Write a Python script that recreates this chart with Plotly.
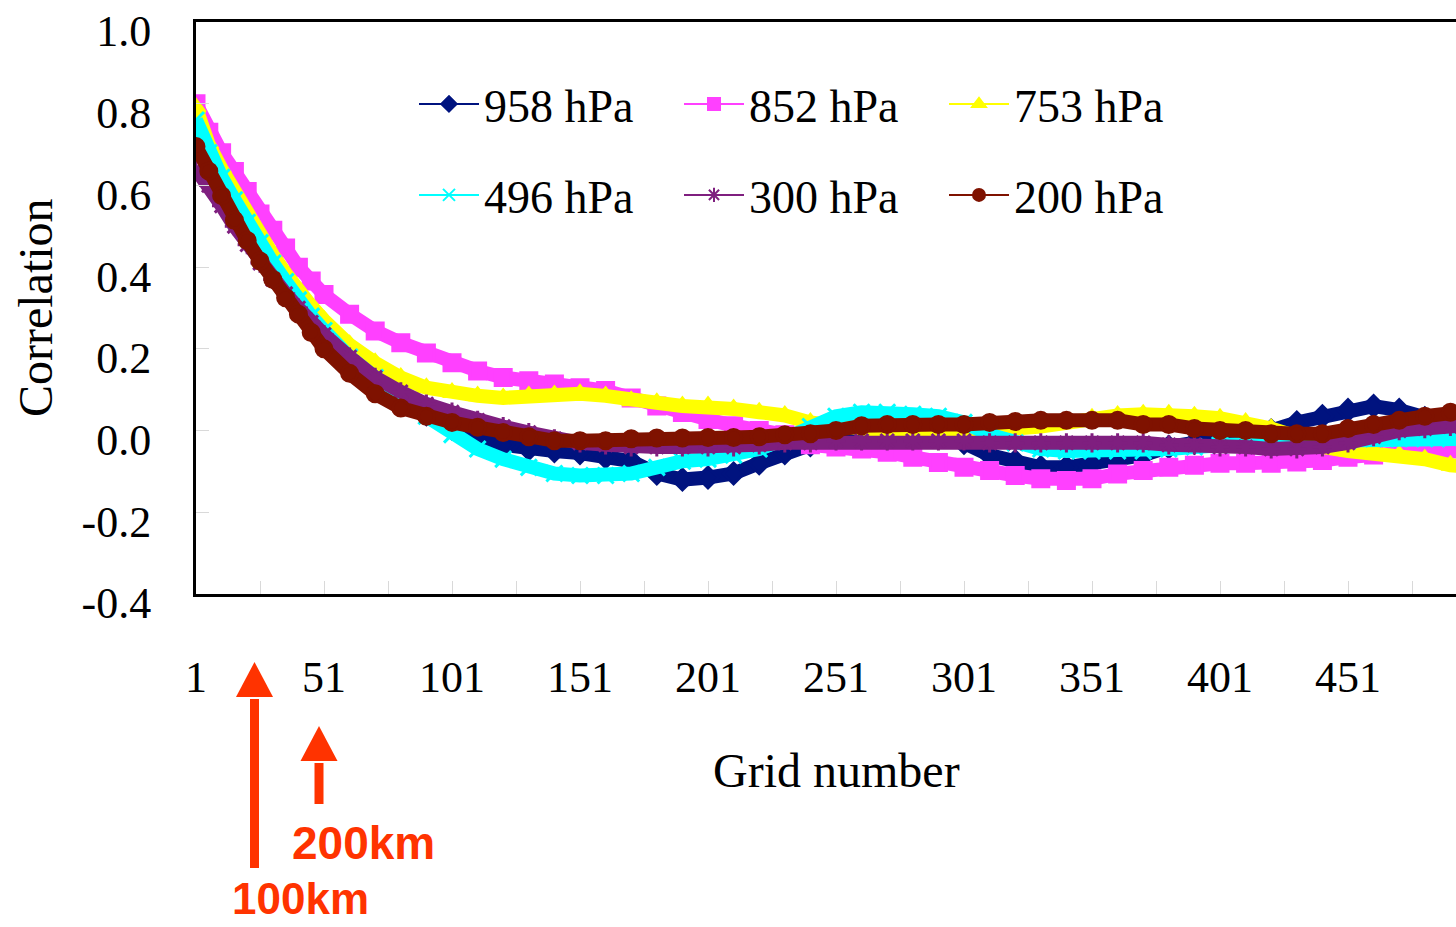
import plotly.graph_objects as go

# ---------------- data ----------------
grid = [1, 6, 11, 16, 21, 26, 31, 36, 41, 46, 51, 61, 71, 81, 91, 101, 111, 121, 131, 141,
        151, 161, 171, 181, 191, 201, 211, 221, 231, 241, 251, 261, 271, 281, 291, 301,
        311, 321, 331, 341, 351, 361, 371, 381, 391, 401, 411, 421, 431, 441, 451, 461,
        471, 481, 491, 501]

hpa958 = [0.73, 0.66, 0.60, 0.545, 0.49, 0.44, 0.395, 0.35, 0.31, 0.275, 0.24, 0.18, 0.13,
          0.085, 0.04, 0.005, -0.02, -0.035, -0.045, -0.05, -0.055, -0.065, -0.075, -0.105,
          -0.12, -0.115, -0.105, -0.08, -0.055, -0.035, -0.02, -0.01, -0.01, -0.01, -0.015,
          -0.03, -0.06, -0.075, -0.09, -0.09, -0.08, -0.075, -0.06, -0.04, -0.03, -0.02,
          -0.015, 0.0, 0.02, 0.035, 0.05, 0.06, 0.05, 0.03, 0.015, 0.01]
hpa852 = [0.80, 0.73, 0.68, 0.634, 0.585, 0.53, 0.49, 0.447, 0.40, 0.366, 0.333, 0.285, 0.244,
          0.215, 0.19, 0.166, 0.146, 0.13, 0.122, 0.114, 0.105, 0.098, 0.08, 0.06, 0.044,
          0.027, 0.012, 0.0, -0.01, -0.035, -0.04, -0.045, -0.053, -0.065, -0.078, -0.09,
          -0.098, -0.11, -0.118, -0.122, -0.118, -0.106, -0.098, -0.09, -0.085, -0.08, -0.08,
          -0.08, -0.077, -0.073, -0.065, -0.06, -0.053, -0.045, -0.045, -0.04]
hpa753 = [0.79, 0.70, 0.64, 0.585, 0.53, 0.48, 0.43, 0.385, 0.34, 0.305, 0.27, 0.21, 0.166,
          0.13, 0.105, 0.093, 0.085, 0.08, 0.085, 0.087, 0.09, 0.085, 0.073, 0.068, 0.06,
          0.06, 0.053, 0.045, 0.037, 0.02, 0.01, 0.005, 0.0, 0.0, 0.0, 0.0, 0.0, 0.005, 0.01,
          0.02, 0.03, 0.037, 0.04, 0.04, 0.035, 0.03, 0.02, 0.005, -0.015, -0.04, -0.05,
          -0.055, -0.06, -0.07, -0.085, -0.09]
hpa496 = [0.76, 0.68, 0.62, 0.565, 0.51, 0.46, 0.41, 0.365, 0.32, 0.28, 0.245, 0.18, 0.13,
          0.075, 0.035, -0.01, -0.045, -0.07, -0.09, -0.105, -0.11, -0.11, -0.105, -0.09,
          -0.075, -0.07, -0.06, -0.045, -0.02, 0.01, 0.035, 0.045, 0.045, 0.04, 0.035, 0.02,
          -0.01, -0.03, -0.045, -0.05, -0.05, -0.05, -0.05, -0.045, -0.04, -0.035, -0.03,
          -0.025, -0.025, -0.025, -0.025, -0.02, -0.02, -0.02, -0.02, -0.02]
hpa300 = [0.64, 0.60, 0.55, 0.50, 0.455, 0.41, 0.37, 0.335, 0.30, 0.265, 0.235, 0.18, 0.13,
          0.095, 0.065, 0.045, 0.025, 0.01, -0.005, -0.02, -0.03, -0.035, -0.04, -0.04,
          -0.04, -0.04, -0.04, -0.035, -0.03, -0.03, -0.025, -0.025, -0.025, -0.025, -0.025,
          -0.025, -0.03, -0.03, -0.03, -0.03, -0.03, -0.03, -0.03, -0.035, -0.035, -0.04,
          -0.04, -0.045, -0.045, -0.04, -0.03, -0.015, 0.0, 0.005, 0.01, 0.015]
hpa200 = [0.695, 0.635, 0.575, 0.515, 0.465, 0.415, 0.37, 0.325, 0.285, 0.24, 0.20, 0.14,
          0.09, 0.055, 0.035, 0.02, 0.008, -0.005, -0.015, -0.025, -0.025, -0.025, -0.02,
          -0.018, -0.018, -0.017, -0.017, -0.015, -0.01, -0.008, 0.0, 0.012, 0.015, 0.015,
          0.015, 0.015, 0.02, 0.022, 0.025, 0.025, 0.025, 0.025, 0.015, 0.015, 0.005, 0.0,
          0.0, -0.008, -0.008, -0.008, 0.005, 0.015, 0.025, 0.035, 0.045, 0.05]

series_names = ["958 hPa", "852 hPa", "753 hPa", "496 hPa", "300 hPa", "200 hPa"]
series_values = [hpa958, hpa852, hpa753, hpa496, hpa300, hpa200]

y_tickvals = [-0.4, -0.2, 0.0, 0.2, 0.4, 0.6, 0.8, 1.0]
y_ticktext = ["-0.4", "-0.2", "0.0", "0.2", "0.4", "0.6", "0.8", "1.0"]

# ---------------- styling ----------------
colors = ["#00137F", "#FF40FF", "#FFFF00", "#00FFFF", "#7F1F7F", "#7F1200"]
symbols = ["diamond", "square", "triangle-up", "x-thin-open", "asterisk-open", "circle"]
SERIF = "Liberation Serif, Times New Roman, serif"
SANS = "Liberation Sans, Arial, sans-serif"
RED = "#FF3300"

W, H = 1456, 927
L, T, B = 196, 22, 333
PW, PH = W - L, H - T - B


def px(x):
    return (x - L) / PW


def py(y):
    return (T + PH - y) / PH


fig = go.Figure()

for name, vals, c, s in zip(series_names, series_values, colors, symbols):
    fig.add_trace(go.Scatter(
        x=grid, y=vals, mode="lines+markers", name=name, showlegend=False,
        line=dict(color=c, width=14),
        marker=dict(symbol=s, size=16, color=c, line=dict(color=c, width=3)),
    ))

for i, (name, c, s) in enumerate(zip(series_names, colors, symbols)):
    fig.add_trace(go.Scatter(
        x=[None], y=[None], mode="lines+markers", name=name,
        legend="legend" if i < 3 else "legend2",
        line=dict(color=c, width=2),
        marker=dict(symbol=s, size=12, color=c, line=dict(color=c, width=2)),
    ))

legend_common = dict(
    orientation="h", xanchor="left", yanchor="middle",
    font=dict(family=SERIF, size=46, color="black"),
    bgcolor="rgba(0,0,0,0)", itemwidth=60,
    entrywidth=190, entrywidthmode="pixels", tracegroupgap=0,
)

fig.update_layout(
    width=W, height=H,
    margin=dict(l=L, r=0, t=T, b=B, pad=0),
    paper_bgcolor="white", plot_bgcolor="white",
    font=dict(family=SERIF, color="black"),
    legend=dict(x=px(414), y=py(104), **legend_common),
    legend2=dict(x=px(414), y=py(195), **legend_common),
    xaxis=dict(
        range=[1, 1 + PW / 2.56], tickmode="linear", tick0=1, dtick=50,
        showgrid=False, zeroline=False,
        showline=True, linecolor="black", linewidth=3, mirror=True,
        ticks="inside", ticklen=13, tickcolor="#d9d9d9", tickwidth=1,
        minor=dict(tick0=1, dtick=25, ticks="inside", ticklen=13,
                   tickcolor="#d9d9d9", tickwidth=1, showgrid=False),
        tickfont=dict(family=SERIF, size=44, color="black"),
        ticklabelstandoff=42,
    ),
    yaxis=dict(
        range=[-0.4, 1.0], tickmode="array", tickvals=y_tickvals, ticktext=y_ticktext,
        showgrid=False, zeroline=False,
        showline=True, linecolor="black", linewidth=3, mirror=False,
        ticks="inside", ticklen=13, tickcolor="#d9d9d9", tickwidth=1,
        tickfont=dict(family=SERIF, size=44, color="black"),
        ticklabelstandoff=33, ticklabelshift=9,
    ),
)

annotations = [
    dict(text="Grid number", x=px(836), y=py(770), font=dict(family=SERIF, size=48)),
    dict(text="Correlation", x=px(35), y=py(308), textangle=-90,
         font=dict(family=SERIF, size=48)),
    dict(text="<b>200km</b>", x=px(363), y=py(843), font=dict(family=SANS, size=46, color=RED)),
    dict(text="<b>100km</b>", x=px(300), y=py(898), font=dict(family=SANS, size=44, color=RED)),
]
for a in annotations:
    fig.add_annotation(xref="paper", yref="paper", showarrow=False,
                       xanchor="center", yanchor="middle", **a)

# red arrows below the axis
arrows = [
    (254.5, 868, 697, 662),
    (319, 804, 761, 726),
]
for xc, ybot, ybase, ytip in arrows:
    fig.add_shape(type="line", xref="paper", yref="paper",
                  x0=px(xc), x1=px(xc), y0=py(ybot), y1=py(ybase + 2),
                  line=dict(color=RED, width=9))
    fig.add_shape(type="path", xref="paper", yref="paper",
                  path=f"M {px(xc - 18.5)},{py(ybase)} L {px(xc + 18.5)},{py(ybase)} "
                       f"L {px(xc)},{py(ytip)} Z",
                  fillcolor=RED, line=dict(color=RED, width=0))

fig.write_html("out.html")
